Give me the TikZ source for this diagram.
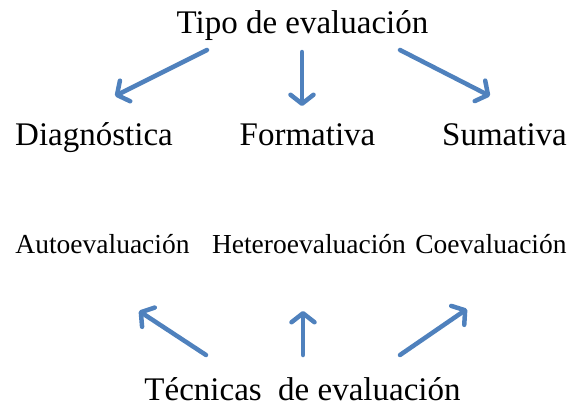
\documentclass[tikz,border=0pt]{standalone}
\usepackage{fontspec}
\setmainfont{Liberation Serif}
\usepackage{tikz}
\usetikzlibrary{arrows.meta, positioning}
\usepackage{xcolor}
\definecolor{azul}{HTML}{4F81BD}

\begin{document}
\begin{tikzpicture}[x=1pt, y=-1pt,
    grande/.style={font=\fontsize{33}{40}\selectfont, anchor=base, inner sep=0pt},
    chico/.style={font=\fontsize{27.5}{33}\selectfont, anchor=base, inner sep=0pt},
    flecha/.style={-{Straight Barb[length=9pt, width=23pt, round]}, azul, line width=4.5pt, line cap=round}]
        \useasboundingbox (0,0) rectangle (571,407);
        % Tipos de evaluacion
        \node[grande] (tipo) at (302.5,33) {Tipo de evaluación};
        \node[grande] (diag) at (94,145) {Diagnóstica};
        \node[grande] (form) at (307.5,145) {Formativa};
        \node[grande] (suma) at (504.5,145) {Sumativa};
        
        % Tecnicas
        \node[chico] (auto) at (102.5,253) {Autoevaluación};
        \node[chico] (hetero) at (309,253) {Heteroevaluación};
        \node[chico] (coev) at (491,253) {Coevaluación};
        \node[grande] (tecnicas) at (302.5,400) {Técnicas\ \ de evaluación};
        
        % Extremos de las flechas
        \coordinate (t1) at (207,50);
        \coordinate (t2) at (302,52);
        \coordinate (t3) at (400,50);
        \coordinate (d1) at (115,96);
        \coordinate (d2) at (302,106);
        \coordinate (d3) at (490,96);
        \coordinate (b1) at (206,355);
        \coordinate (b2) at (303,355);
        \coordinate (b3) at (400,355);
        \coordinate (u1) at (139,311);
        \coordinate (u2) at (303,311);
        \coordinate (u3) at (467,309);
        
        % Flechas de arriba
        \draw[flecha] (t1) -- (d1);
        \draw[flecha] (t2) -- (d2);
        \draw[flecha] (t3) -- (d3);
        
        % Flechas de abajo
        \draw[flecha] (b1) -- (u1);
        \draw[flecha] (b2) -- (u2);
        \draw[flecha] (b3) -- (u3);
    \end{tikzpicture}
\end{document}
